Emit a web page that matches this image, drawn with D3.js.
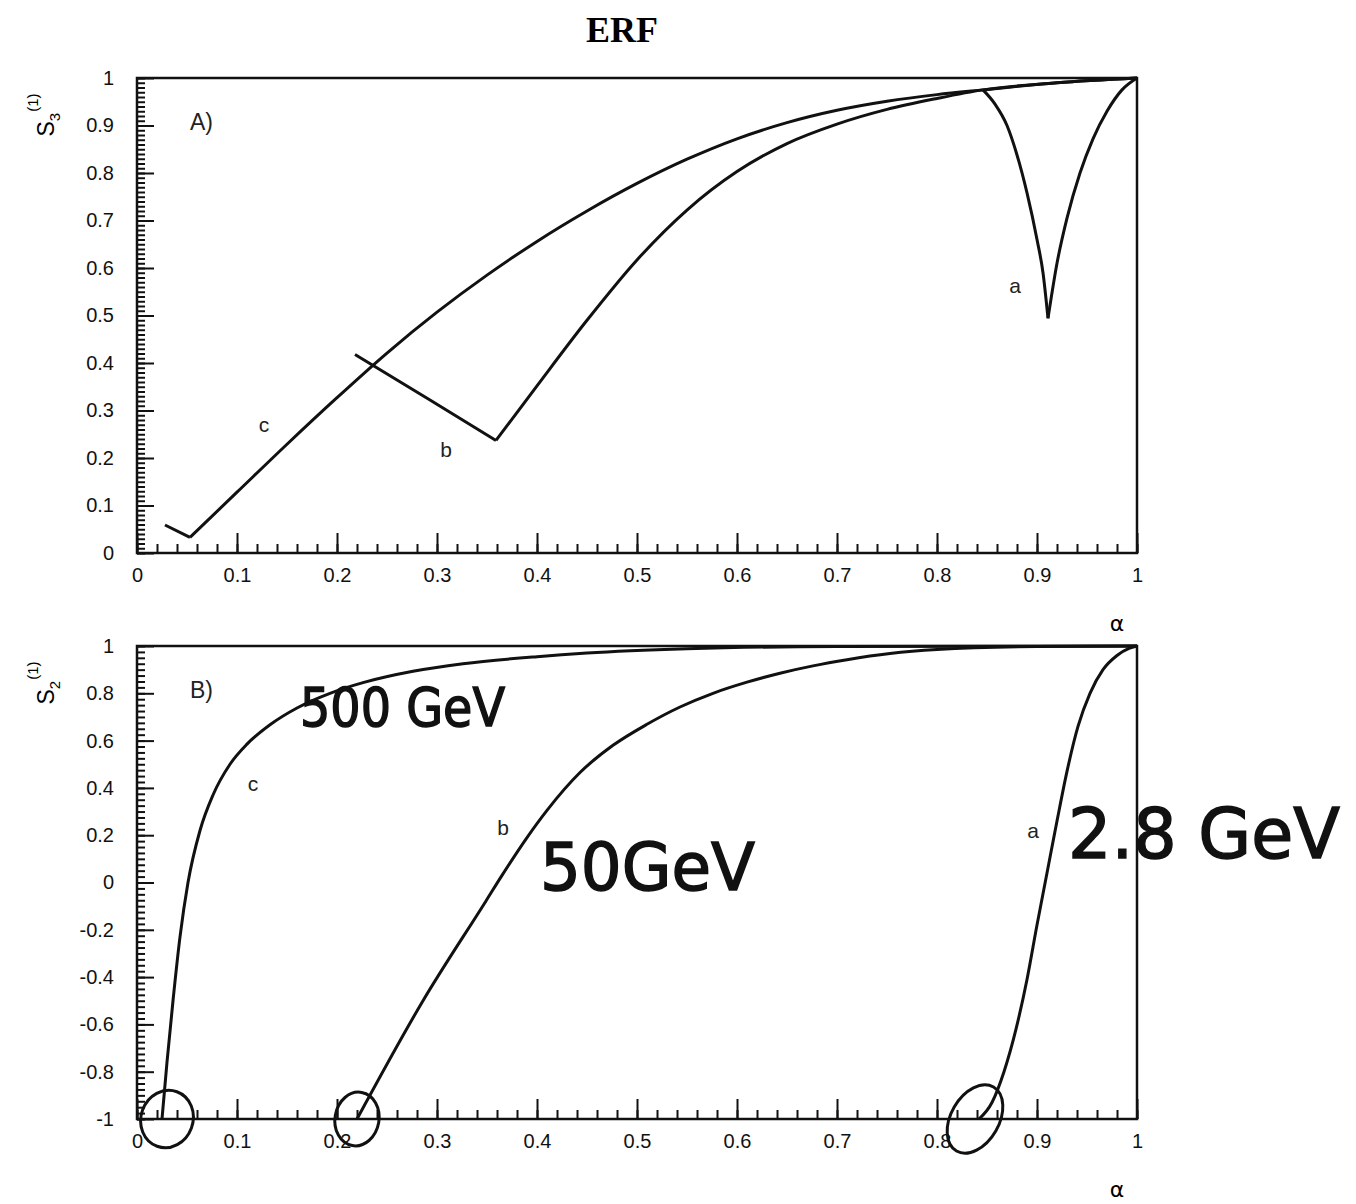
<!DOCTYPE html>
<html>
<head>
<meta charset="utf-8">
<script src="https://cdn.jsdelivr.net/npm/d3@7"></script>
<style>
  body { margin: 0; background: #fff; }
</style>
</head>
<body>
<div id="chart"></div>
<script>
// Tick values for both panels
const alphaTicks = [0, 0.1, 0.2, 0.3, 0.4, 0.5, 0.6, 0.7, 0.8, 0.9, 1];
const s3Ticks = [0, 0.1, 0.2, 0.3, 0.4, 0.5, 0.6, 0.7, 0.8, 0.9, 1];
const s2Ticks = [-1, -0.8, -0.6, -0.4, -0.2, 0, 0.2, 0.4, 0.6, 0.8, 1];

// Panel A: S3(1) vs alpha as [alpha, value]
const s3_a = [[0.846,0.975],[0.858,0.945],[0.870,0.900],[0.880,0.838],[0.890,0.758],[0.900,0.660],
  [0.906,0.590],[0.911,0.494],[0.920,0.610],[0.930,0.705],[0.943,0.800],[0.956,0.872],[0.970,0.930],
  [0.985,0.975],[1.0,1.0]];
const s3_b = [[0.218,0.418],[0.293,0.322],[0.359,0.237],[0.400,0.352],[0.450,0.490],[0.500,0.617],
  [0.550,0.722],[0.600,0.803],[0.650,0.862],[0.700,0.903],[0.750,0.934],[0.800,0.957],[0.846,0.975],
  [0.920,0.990],[1.0,1.0]];
const s3_c = [[0.028,0.059],[0.053,0.033],[0.100,0.128],[0.150,0.229],[0.200,0.327],[0.250,0.421],
  [0.300,0.507],[0.350,0.585],[0.400,0.656],[0.450,0.720],[0.500,0.778],[0.550,0.829],[0.600,0.872],
  [0.650,0.906],[0.700,0.932],[0.750,0.951],[0.800,0.965],[0.846,0.975],[0.920,0.990],[1.0,1.0]];

// Panel B: S2(1) vs alpha
const s2_a = [[0.842,-1.0],[0.855,-0.93],[0.867,-0.80],[0.879,-0.62],[0.890,-0.41],[0.900,-0.18],
  [0.910,0.04],[0.920,0.26],[0.930,0.47],[0.941,0.66],[0.953,0.80],[0.966,0.90],[0.980,0.96],
  [0.992,0.99],[1.0,1.0]];
const s2_b = [[0.220,-1.0],[0.286,-0.50],[0.349,-0.078],[0.365,0.03],[0.390,0.19],[0.410,0.305],
  [0.443,0.465],[0.476,0.580],[0.510,0.669],[0.543,0.742],[0.576,0.800],[0.610,0.847],[0.643,0.885],
  [0.676,0.916],[0.710,0.942],[0.753,0.968],[0.800,0.985],[0.900,0.998],[1.0,1.0]];
const s2_c = [[0.025,-1.0],[0.030,-0.76],[0.036,-0.50],[0.043,-0.23],[0.051,0.0],[0.063,0.22],
  [0.076,0.37],[0.093,0.50],[0.110,0.585],[0.133,0.667],[0.160,0.738],[0.193,0.800],[0.226,0.845],
  [0.276,0.893],[0.326,0.925],[0.400,0.955],[0.450,0.970],[0.550,0.988],[0.700,0.998],[1.0,1.0]];

// Curve letters and handwritten notes, in data coordinates
const labelsA = [{t: "c", x: 0.127, y: 0.255}, {t: "b", x: 0.309, y: 0.202}, {t: "a", x: 0.878, y: 0.547}];
const labelsB = [{t: "c", x: 0.116, y: 0.387}, {t: "b", x: 0.366, y: 0.200}, {t: "a", x: 0.896, y: 0.188}];
const notes = [{t: "500 GeV", x: 0.163, y: 0.66, len: 205, size: 54},
               {t: "50GeV", x: 0.403, y: -0.03, len: 215, size: 66},
               {t: "2.8 GeV", x: 0.931, y: 0.105, len: 272, size: 70}];
const thresholds = [0.030, 0.220, 0.838];

const width = 1356, height = 1204;

const svg = d3.select("#chart").append("svg")
    .attr("width", width)
    .attr("height", height)
    .style("font-family", "'Liberation Sans', Arial, sans-serif");

svg.append("rect").attr("width", width).attr("height", height).attr("fill", "#fff");

// Title
svg.append("text")
    .attr("x", 622)
    .attr("y", 42)
    .attr("text-anchor", "middle")
    .style("font-family", "'Liberation Serif', 'Times New Roman', serif")
    .style("font-weight", "bold")
    .style("font-size", "36px")
    .text("ERF");

const x = d3.scaleLinear().domain([0, 1]).range([137, 1137]);
const yA = d3.scaleLinear().domain([0, 1]).range([553, 78]);
const yB = d3.scaleLinear().domain([-1, 1]).range([1119, 646]);

const fmt = d => String(Math.round(d * 10) / 10);

// split a curve where it turns, so cusps stay sharp
function splitAtTurns(pts) {
    const segs = [];
    let cur = [pts[0]], dir = 0;
    for (let i = 1; i < pts.length; i++) {
        const d = Math.sign(pts[i][1] - pts[i - 1][1]);
        if (dir && d && d !== dir) { segs.push(cur); cur = [pts[i - 1]]; }
        if (d) dir = d;
        cur.push(pts[i]);
    }
    segs.push(cur);
    return segs;
}

function drawPanel(y, ticks, minorStep, series, labels, tag, subscript) {
    const g = svg.append("g");
    const [y0, y1] = y.range();

    // minor ticks on x
    g.append("g")
        .attr("transform", `translate(0,${y0})`)
        .call(d3.axisBottom(x).tickValues(d3.range(0, 1.0001, 0.02)).tickSizeInner(-9).tickSizeOuter(0).tickFormat(""))
        .call(a => a.select(".domain").remove());
    // major ticks + labels on x
    g.append("g")
        .attr("transform", `translate(0,${y0})`)
        .call(d3.axisBottom(x).tickValues(alphaTicks).tickSizeInner(-20).tickSizeOuter(0).tickPadding(15).tickFormat(fmt))
        .call(a => a.select(".domain").remove());

    const [d0, d1] = y.domain();
    g.append("g")
        .attr("transform", `translate(${x(0)},0)`)
        .call(d3.axisLeft(y).tickValues(d3.range(d0, d1 + 1e-6, minorStep)).tickSizeInner(-8).tickSizeOuter(0).tickFormat(""))
        .call(a => a.select(".domain").remove());
    g.append("g")
        .attr("transform", `translate(${x(0)},0)`)
        .call(d3.axisLeft(y).tickValues(ticks).tickSizeInner(-17).tickSizeOuter(0).tickPadding(23).tickFormat(fmt))
        .call(a => a.select(".domain").remove());

    g.selectAll(".tick line").attr("stroke", "#111").attr("stroke-width", 2);
    g.selectAll(".tick text").style("font-size", "20px").style("font-family", "'Liberation Sans', Arial, sans-serif").attr("fill", "#111");

    // frame
    g.append("rect")
        .attr("x", x(0)).attr("y", y1)
        .attr("width", x(1) - x(0)).attr("height", y0 - y1)
        .attr("fill", "none").attr("stroke", "#111").attr("stroke-width", 2.5);

    // curves
    const line = d3.line().x(d => x(d[0])).y(d => y(d[1])).curve(d3.curveMonotoneX);
    series.forEach(pts => {
        splitAtTurns(pts).forEach(seg => {
            g.append("path")
                .attr("d", line(seg))
                .attr("fill", "none")
                .attr("stroke", "#111")
                .attr("stroke-width", 3)
                .attr("stroke-linejoin", "round");
        });
    });

    // curve letters
    labels.forEach(l => {
        g.append("text")
            .attr("x", x(l.x)).attr("y", y(l.y))
            .attr("text-anchor", "middle")
            .style("font-size", "21px")
            .attr("fill", "#222")
            .text(l.t);
    });

    // panel tag A) / B)
    g.append("text")
        .attr("x", x(0.053)).attr("y", y1 + 52)
        .style("font-size", "23px")
        .attr("fill", "#222")
        .text(tag);

    // alpha axis name
    g.append("text")
        .attr("x", x(0.98)).attr("y", y0 + 78)
        .attr("text-anchor", "middle")
        .style("font-family", "'DejaVu Sans', sans-serif")
        .style("font-size", "22px")
        .text("α");

    // y axis name S_n^(1)
    const yt = g.append("text")
        .attr("transform", `translate(54,${y1 + 37}) rotate(-90)`)
        .attr("text-anchor", "middle")
        .style("font-size", "23px");
    yt.append("tspan").text("S");
    yt.append("tspan").attr("dy", 6).style("font-size", "15px").text(subscript);
    yt.append("tspan").attr("dy", -22).attr("dx", 1).style("font-size", "15px").text("(1)");
}

drawPanel(yA, s3Ticks, 0.01, [s3_a, s3_b, s3_c], labelsA, "A)", "3");
drawPanel(yB, s2Ticks, 0.025, [s2_a, s2_b, s2_c], labelsB, "B)", "2");

// handwritten notes on panel B
notes.forEach(n => {
    svg.append("text")
        .attr("x", x(n.x)).attr("y", yB(n.y))
        .attr("textLength", n.len)
        .attr("lengthAdjust", "spacingAndGlyphs")
        .style("font-family", "'DejaVu Sans', sans-serif")
        .style("font-size", n.size + "px")
        .attr("fill", "#111")
        .attr("stroke", "#111")
        .attr("stroke-width", 1.5)
        .text(n.t);
});

// hand-drawn circles around the threshold points
svg.selectAll(".ring")
    .data(thresholds)
    .enter()
    .append("ellipse")
    .attr("cx", d => x(d))
    .attr("cy", yB(-1))
    .attr("rx", (d, i) => [26, 22, 24][i])
    .attr("ry", (d, i) => [29, 27, 37][i])
    .attr("transform", (d, i) => `rotate(${[20, 10, 30][i]},${x(d)},${yB(-1)})`)
    .attr("fill", "none")
    .attr("stroke", "#111")
    .attr("stroke-width", 3);
</script>
</body>
</html>
